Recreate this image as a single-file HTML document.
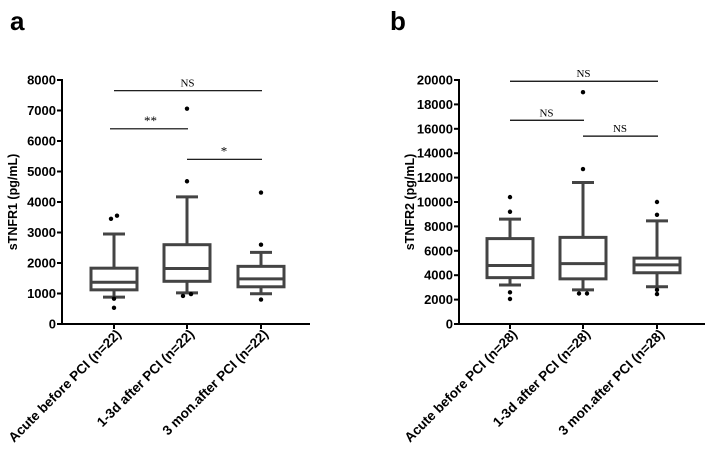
<!DOCTYPE html>
<html><head><meta charset="utf-8"><style>
body{margin:0;background:#fff}
svg{display:block;font-family:"Liberation Sans",Arial,sans-serif}
</style></head><body>
<svg id="c" width="707" height="454" xmlns="http://www.w3.org/2000/svg"></svg>
<script>
const categoriesA = ["Acute before PCI (n=22)","1-3d after PCI (n=22)","3 mon.after PCI (n=22)"];
const boxesA = [[880,1120,1370,1830,2950],[1020,1400,1820,2600,4170],[990,1220,1480,1890,2350]];
const outliersA = [[3450,3550,830,530],[7060,4680,920,980],[4310,2600,800]];
const ticksA = [0,1000,2000,3000,4000,5000,6000,7000,8000];
const sigA = [[0,2,7650,"NS"],[0,1,6400,"**"],[1,2,5400,"*"]];
const categoriesB = ["Acute before PCI (n=28)","1-3d after PCI (n=28)","3 mon.after PCI (n=28)"];
const boxesB = [[3200,3800,4800,7000,8600],[2800,3700,4950,7100,11600],[3050,4200,4850,5400,8450]];
const outliersB = [[10400,9200,2600,2050],[19000,12700,2500,2500],[10000,8950,2800,2450]];
const ticksB = [0,2000,4000,6000,8000,10000,12000,14000,16000,18000,20000];
const sigB = [[0,2,19900,"NS"],[0,1,16700,"NS"],[1,2,15400,"NS"]];

const svg=document.getElementById('c');
const NS='http://www.w3.org/2000/svg';
function mk(t,a,p){const e=document.createElementNS(NS,t);for(const k in a)e.setAttribute(k,a[k]);(p||svg).appendChild(e);return e;}

function panel(id,letter,lx,axX,axEnd,cats,boxes,outs,ticks,sig,max,title,catX,outDx){
  const g=mk('g',{});
  
  
  const y0=324,y1=80;
  const Y=v=>y0-(v/max)*(y0-y1);
  const X=i=>catX[i];
  const t=mk('text',{x:lx,y:30,'font-size':26,'font-weight':'bold'},g);t.textContent=letter;
  
  const ax=mk('g',{},g);
  
  mk('line',{x1:axX,y1:Y(max)-1,x2:axX,y2:y0+1,stroke:'#000','stroke-width':2},ax);
  ticks.forEach(v=>{
    mk('line',{x1:axX-5,y1:Y(v),x2:axX,y2:Y(v),stroke:'#000','stroke-width':2},ax);
    const tt=mk('text',{x:axX-6,y:Y(v)+4.5,'font-size':13,'font-weight':'bold','text-anchor':'end'},ax);tt.textContent=v;
  });
  const yt=mk('text',{x:0,y:0,'font-size':12.5,'font-weight':'bold','text-anchor':'middle',transform:`translate(${axX-45},${(y0+y1)/2}) rotate(-90)`},g);
  yt.textContent=title;
  const xa=mk('g',{},g);
  
  mk('line',{x1:axX,y1:y0,x2:axEnd,y2:y0,stroke:'#000','stroke-width':2},xa);
  cats.forEach((c,i)=>{
    mk('line',{x1:X(i),y1:y0,x2:X(i),y2:y0+5,stroke:'#000','stroke-width':2},xa);
    const tx=mk('text',{x:0,y:0,'font-size':13.5,'font-weight':'bold','text-anchor':'end',transform:`translate(${X(i)+8},${y0+11}) rotate(-45)`},xa);
    tx.textContent=c;
  });
  boxes.forEach((b,i)=>{
    const bg=mk('g',{fill:'none',stroke:'#444','stroke-width':3},g);
    
    
    const cx=X(i),w=23;
    mk('line',{x1:cx,y1:Y(b[0]),x2:cx,y2:Y(b[1])},bg);
    mk('line',{x1:cx,y1:Y(b[3]),x2:cx,y2:Y(b[4])},bg);
    mk('line',{x1:cx-11,y1:Y(b[0]),x2:cx+11,y2:Y(b[0])},bg);
    mk('line',{x1:cx-11,y1:Y(b[4]),x2:cx+11,y2:Y(b[4])},bg);
    mk('rect',{x:cx-w,y:Y(b[3]),width:2*w,height:Y(b[1])-Y(b[3])},bg);
    mk('line',{x1:cx-w,y1:Y(b[2]),x2:cx+w,y2:Y(b[2])},bg);
    outs[i].forEach((v,j)=>{
      const d=mk('circle',{cx:cx+(outDx[i][j]||0),cy:Y(v),r:2.2,fill:'#000'},g);
      
      
    });
  });
  sig.forEach(s=>{
    const sg=mk('g',{},g);
    
    
    mk('line',{x1:X(s[0])-(s[1]-s[0]===1&&s[0]===0&&letter==='a'?4:0),y1:Y(s[2]),x2:X(s[1])+1,y2:Y(s[2]),stroke:'#000','stroke-width':1.2},sg);
    const st=mk('text',{x:(X(s[0])+X(s[1]))/2,y:Y(s[2])-4,'font-size':s[3]==='NS'?11:13,'font-family':'Liberation Serif,serif','text-anchor':'middle'},sg);
    st.textContent=s[3];
  });
}
panel('chart-a','a',10,62,310,categoriesA,boxesA,outliersA,ticksA,sigA,8000,'sTNFR1 (pg/mL)',[114,187,261],[[-3,3,0,0],[0,0,-4,4],[0,0,0]]);
panel('chart-b','b',390,459,705,categoriesB,boxesB,outliersB,ticksB,sigB,20000,'sTNFR2 (pg/mL)',[510,583,657],[[0,0,0,0],[0,0,-4,4],[0,0,0,0]]);
</script>
</body></html>
